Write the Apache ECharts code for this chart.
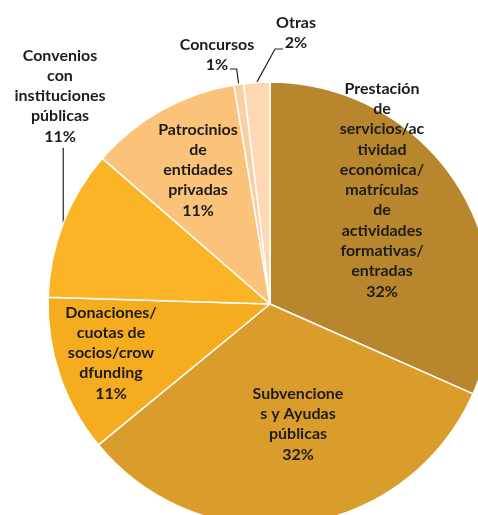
<!DOCTYPE html>
<html><head><meta charset="utf-8">
<script src="https://cdn.jsdelivr.net/npm/echarts@6/dist/echarts.min.js"></script>
<style>html,body{margin:0;padding:0;background:#fff}#c{width:478px;height:515px}</style>
</head><body><div id="c"></div>
<script>
const categories = [
  "Prestación de servicios/actividad económica/matrículas de actividades formativas/entradas",
  "Subvenciones y Ayudas públicas",
  "Donaciones/cuotas de socios/crowdfunding",
  "Convenios con instituciones públicas",
  "Patrocinios de entidades privadas",
  "Concursos",
  "Otras"
];
const values = [31.6, 32.4, 11.4, 10.9, 11.0, 0.7, 1.9];
const labelTexts = [
  "Prestación\nde\nservicios/ac\ntividad\neconómica/\nmatrículas\nde\nactividades\nformativas/\nentradas",
  "Subvencione\ns y Ayudas\npúblicas",
  "Donaciones/\ncuotas de\nsocios/crow\ndfunding",
  "Convenios\ncon\ninstituciones\npúblicas",
  "Patrocinios\nde\nentidades\nprivadas",
  "Concursos",
  "Otras"
];
const colors = ["#B8862C", "#DA9D2B", "#F5AC1F", "#FAB425", "#FBC27A", "#FCCFA2", "#FDD8B3"];
const outsideIdx = [3, 5, 6];

// label placement (pixels) – layout only
const labelCenters = [[382, 190], [298, 424], [111, 353], [60, 96], [198, 170], [217, 55], [296, 33]];
const LH = 20.3;

const chart = echarts.init(document.getElementById('c'), null, {renderer: 'canvas'});
const data = categories.map((name, i) => {
  const outside = outsideIdx.indexOf(i) >= 0;
  return {
    name: name,
    value: values[i],
    itemStyle: {color: colors[i]},
    label: {position: outside ? 'outside' : 'inside', width: 140},
    labelLine: {show: outside}
  };
});

chart.setOption({
  animation: false,
  series: [{
    type: 'pie',
    center: [270, 304],
    radius: 222,
    startAngle: 90,
    clockwise: true,
    avoidLabelOverlap: false,
    data: data,
    itemStyle: {borderColor: '#fff', borderWidth: 1.5},
    label: {
      show: true,
      formatter: p => labelTexts[p.dataIndex] + '\n' + Math.round(p.percent) + '%',
      fontFamily: 'Lato',
      fontWeight: 'bold',
      fontSize: 16,
      lineHeight: LH,
      color: '#1c1c1c',
      align: 'center',
      verticalAlign: 'middle',
      overflow: 'none'
    },
    labelLine: {lineStyle: {color: '#222', width: 1.2}, length: 10, length2: 10},
    labelLayout: function (p) {
      const i = p.dataIndex;
      const c = labelCenters[i];
      const res = {x: c[0], y: c[1], align: 'center', verticalAlign: 'middle'};
      const pts = p.labelLinePoints;
      if (pts && pts.length) {
        const p0 = pts[0];
        const nLines = labelTexts[i].split('\n').length + 1;
        const half = nLines * LH / 2;
        if (i === 3) {
          res.labelLinePoints = [p0, [p0[0], c[1] + half + 1]];
        } else if (i === 5) {
          res.labelLinePoints = [p0, [p0[0] - 2, c[1] + 14], [c[0] + 13, c[1] + 14]];
        } else if (i === 6) {
          res.labelLinePoints = [p0, [c[0] - 21, c[1] + 16], [c[0] - 13, c[1] + 16]];
        }
      }
      return res;
    }
  }]
});
</script>
</body></html>
